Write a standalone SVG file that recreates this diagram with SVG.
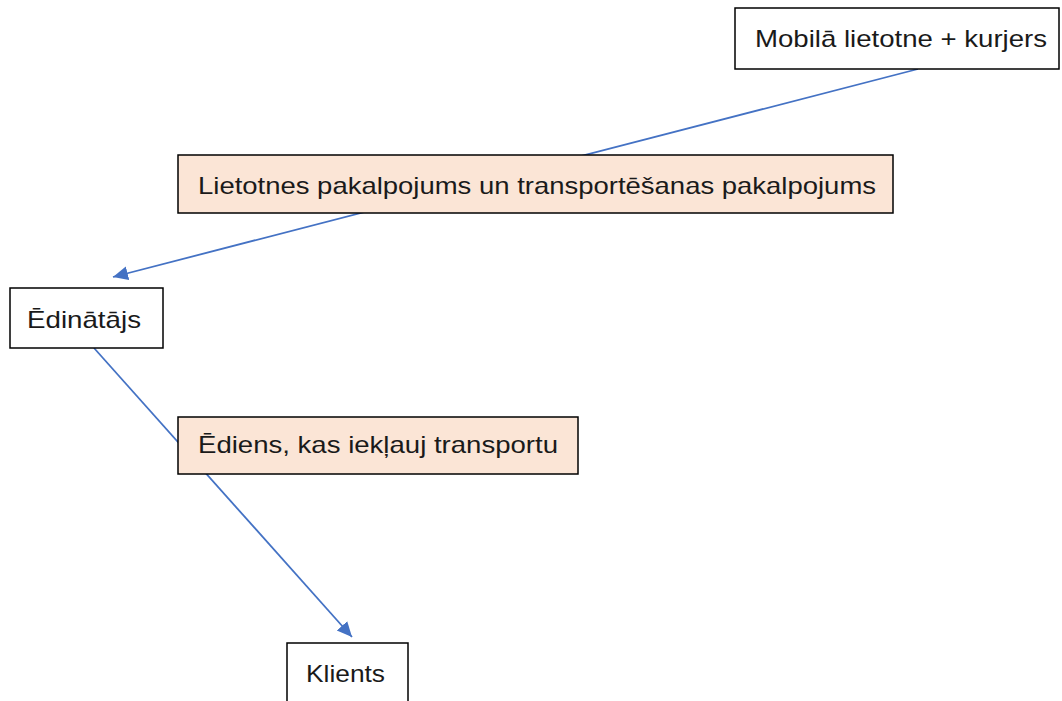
<svg xmlns="http://www.w3.org/2000/svg" width="1062" height="701" viewBox="0 0 1062 701">
  <style>
    .box { fill: #ffffff; stroke: #000000; stroke-width: 1.5; }
    .label { fill: #fbe5d6; stroke: #000000; stroke-width: 1.5; }
    .txt { font-family: "Liberation Sans", Arial, sans-serif; font-size: 24px; fill: #1a1a1a; }
    .conn { stroke: #4472c4; stroke-width: 1.8; fill: none; }
  </style>
  <defs>
    <marker id="arrow" markerUnits="userSpaceOnUse" markerWidth="18" markerHeight="16" refX="15" refY="7" orient="auto">
      <path d="M0,0 L15,7 L0,14 Z" fill="#4472c4"/>
    </marker>
  </defs>
  <rect width="1062" height="701" fill="#ffffff"/>
  <g id="connectors">
    <line class="conn" x1="918" y1="69" x2="113" y2="277" marker-end="url(#arrow)"/>
    <line class="conn" x1="94" y1="348" x2="352" y2="637" marker-end="url(#arrow)"/>
  </g>
  <g id="node-mobila">
    <rect class="box" x="735" y="8" width="324" height="61"/>
    <text class="txt" x="755" y="47" textLength="292" lengthAdjust="spacingAndGlyphs">Mobilā lietotne + kurjers</text>
  </g>
  <g id="label-lietotnes">
    <rect class="label" x="178" y="155" width="715" height="58"/>
    <text class="txt" x="198" y="194" textLength="678" lengthAdjust="spacingAndGlyphs">Lietotnes pakalpojums un transportēšanas pakalpojums</text>
  </g>
  <g id="node-edinatajs">
    <rect class="box" x="10" y="288" width="153" height="60"/>
    <text class="txt" x="27" y="328" textLength="114" lengthAdjust="spacingAndGlyphs">Ēdinātājs</text>
  </g>
  <g id="label-ediens">
    <rect class="label" x="178" y="417" width="400" height="57"/>
    <text class="txt" x="198" y="453" textLength="360" lengthAdjust="spacingAndGlyphs">Ēdiens, kas iekļauj transportu</text>
  </g>
  <g id="node-klients">
    <rect class="box" x="287" y="643" width="121" height="70"/>
    <text class="txt" x="306" y="682" textLength="79" lengthAdjust="spacingAndGlyphs">Klients</text>
  </g>
</svg>
